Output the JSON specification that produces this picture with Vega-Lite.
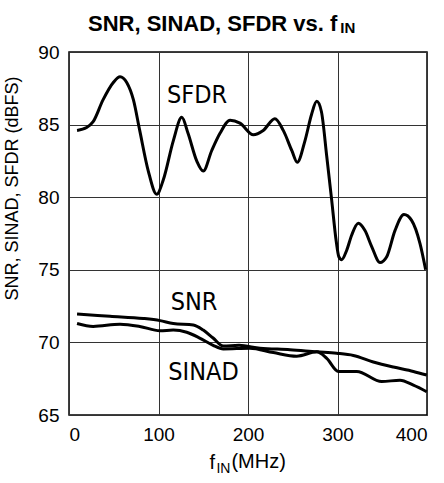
{
  "$schema": "https://vega.github.io/schema/vega-lite/v6.json",
  "width": 358,
  "height": 363,
  "autosize": "none",
  "padding": {"left": 69, "top": 52, "right": 17, "bottom": 68},
  "background": "white",
  "config": {
    "view": {"stroke": "#000", "strokeWidth": 1.5},
    "axis": {
      "grid": true, "gridColor": "#333", "gridWidth": 1, "domain": false, "ticks": false,
      "labelFont": "Liberation Sans", "labelFontSize": 19, "labelColor": "#000",
      "titleFont": "Liberation Sans", "titleFontWeight": "normal", "titleColor": "#000"
    }
  },
  "title": {
    "text": "SNR, SINAD, SFDR vs. f",
    "anchor": "start", "frame": "group", "dx": 19, "dy": 46, "offset": 14,
    "font": "Liberation Sans", "fontSize": 22, "fontWeight": "bold", "color": "#000", "baseline": "alphabetic"
  },
  "encoding": {
    "x": {"field": "f", "type": "quantitative",
      "scale": {"domain": [0, 400], "nice": false, "zero": false},
      "axis": {"values": [0, 100, 200, 300, 400], "labelPadding": 10, "title": "f",
        "titleFontSize": 20, "titleBaseline": "alphabetic", "titleAlign": "left", "titleX": 140, "titleY": 53}},
    "y": {"field": "v", "type": "quantitative",
      "scale": {"domain": [65, 90], "nice": false, "zero": false},
      "axis": {"values": [65, 70, 75, 80, 85, 90], "labelPadding": 10, "title": "SNR, SINAD, SFDR (dBFS)",
        "titleFontSize": 18, "titleAngle": -90, "titleBaseline": "alphabetic", "titleAlign": "center",
        "titleX": -52, "titleY": 136}}
  },
  "layer": [
    {
      "data": {"values": [
        {"s": "SFDR", "f": 9, "v": 84.6}, {"s": "SFDR", "f": 19.7, "v": 84.8}, {"s": "SFDR", "f": 27, "v": 85.2},
        {"s": "SFDR", "f": 38, "v": 86.7}, {"s": "SFDR", "f": 49.5, "v": 87.9}, {"s": "SFDR", "f": 57, "v": 88.3},
        {"s": "SFDR", "f": 64.5, "v": 87.9}, {"s": "SFDR", "f": 72, "v": 86.7}, {"s": "SFDR", "f": 79, "v": 84.6},
        {"s": "SFDR", "f": 88.6, "v": 81.8}, {"s": "SFDR", "f": 98, "v": 80.2}, {"s": "SFDR", "f": 105.4, "v": 81.2},
        {"s": "SFDR", "f": 116.6, "v": 83.9}, {"s": "SFDR", "f": 126, "v": 85.5}, {"s": "SFDR", "f": 133, "v": 84.4},
        {"s": "SFDR", "f": 142.7, "v": 82.5}, {"s": "SFDR", "f": 150, "v": 81.8}, {"s": "SFDR", "f": 159.4, "v": 83.2},
        {"s": "SFDR", "f": 168.7, "v": 84.4}, {"s": "SFDR", "f": 180, "v": 85.3}, {"s": "SFDR", "f": 191, "v": 85.1},
        {"s": "SFDR", "f": 206, "v": 84.3}, {"s": "SFDR", "f": 217, "v": 84.6}, {"s": "SFDR", "f": 230, "v": 85.4},
        {"s": "SFDR", "f": 239.4, "v": 84.6}, {"s": "SFDR", "f": 249, "v": 83.2}, {"s": "SFDR", "f": 255, "v": 82.4},
        {"s": "SFDR", "f": 263.7, "v": 83.9}, {"s": "SFDR", "f": 271, "v": 85.7}, {"s": "SFDR", "f": 276.8, "v": 86.6},
        {"s": "SFDR", "f": 282, "v": 85.9}, {"s": "SFDR", "f": 288, "v": 82.8}, {"s": "SFDR", "f": 293.5, "v": 79.8},
        {"s": "SFDR", "f": 298.5, "v": 77.0}, {"s": "SFDR", "f": 301.5, "v": 75.9}, {"s": "SFDR", "f": 304.7, "v": 75.7},
        {"s": "SFDR", "f": 310.3, "v": 76.35}, {"s": "SFDR", "f": 315.9, "v": 77.4}, {"s": "SFDR", "f": 323.3, "v": 78.2},
        {"s": "SFDR", "f": 330.7, "v": 77.7}, {"s": "SFDR", "f": 338.2, "v": 76.6}, {"s": "SFDR", "f": 347.5, "v": 75.5},
        {"s": "SFDR", "f": 355, "v": 75.9}, {"s": "SFDR", "f": 364.2, "v": 77.7}, {"s": "SFDR", "f": 374.3, "v": 78.8},
        {"s": "SFDR", "f": 382.8, "v": 78.4}, {"s": "SFDR", "f": 392.2, "v": 76.8}, {"s": "SFDR", "f": 398.5, "v": 75.0},
        {"s": "SNR", "f": 9, "v": 71.95}, {"s": "SNR", "f": 45.8, "v": 71.8}, {"s": "SNR", "f": 83, "v": 71.65},
        {"s": "SNR", "f": 101.7, "v": 71.5}, {"s": "SNR", "f": 116.5, "v": 71.3}, {"s": "SNR", "f": 138.9, "v": 71.2},
        {"s": "SNR", "f": 150, "v": 70.85}, {"s": "SNR", "f": 161, "v": 70.3}, {"s": "SNR", "f": 172.4, "v": 69.75},
        {"s": "SNR", "f": 190, "v": 69.8}, {"s": "SNR", "f": 213.4, "v": 69.6}, {"s": "SNR", "f": 246.9, "v": 69.5},
        {"s": "SNR", "f": 276.8, "v": 69.35}, {"s": "SNR", "f": 299, "v": 69.25}, {"s": "SNR", "f": 317.7, "v": 69.1},
        {"s": "SNR", "f": 340, "v": 68.65}, {"s": "SNR", "f": 362.4, "v": 68.3}, {"s": "SNR", "f": 384.8, "v": 68.0},
        {"s": "SNR", "f": 399.7, "v": 67.75},
        {"s": "SINAD", "f": 9, "v": 71.3}, {"s": "SINAD", "f": 27, "v": 71.1}, {"s": "SINAD", "f": 57, "v": 71.25},
        {"s": "SINAD", "f": 79, "v": 71.1}, {"s": "SINAD", "f": 101.7, "v": 70.8}, {"s": "SINAD", "f": 116.5, "v": 70.85},
        {"s": "SINAD", "f": 131.5, "v": 70.7}, {"s": "SINAD", "f": 146, "v": 70.3}, {"s": "SINAD", "f": 161, "v": 69.8},
        {"s": "SINAD", "f": 172.4, "v": 69.55}, {"s": "SINAD", "f": 202, "v": 69.6}, {"s": "SINAD", "f": 228.3, "v": 69.3},
        {"s": "SINAD", "f": 254.4, "v": 69.05}, {"s": "SINAD", "f": 276.8, "v": 69.35}, {"s": "SINAD", "f": 288, "v": 68.9},
        {"s": "SINAD", "f": 301, "v": 68.0}, {"s": "SINAD", "f": 321.5, "v": 68.0}, {"s": "SINAD", "f": 349.4, "v": 67.3},
        {"s": "SINAD", "f": 369.8, "v": 67.4}, {"s": "SINAD", "f": 384.8, "v": 67.05}, {"s": "SINAD", "f": 399.7, "v": 66.6}
      ]},
      "mark": {"type": "line", "color": "#000", "strokeWidth": 3, "interpolate": "monotone"},
      "encoding": {"detail": {"field": "s"}}
    },
    {
      "data": {"values": [
        {"f": 143, "v": 87.04, "label": "SFDR"},
        {"f": 139.7, "v": 72.75, "label": "SNR"},
        {"f": 150.3, "v": 67.96, "label": "SINAD"}
      ]},
      "mark": {"type": "text", "font": "DejaVu Sans Condensed, DejaVu Sans", "fontSize": 25, "color": "#000", "align": "center", "baseline": "middle"},
      "encoding": {"text": {"field": "label"}}
    },
    {
      "data": {"values": [{"f": 311.5, "v": 91.3, "label": "IN"}]},
      "mark": {"type": "text", "font": "Liberation Sans", "fontSize": 15, "fontWeight": "bold", "color": "#000", "align": "center", "baseline": "alphabetic"},
      "encoding": {"text": {"field": "label"}}
    },
    {
      "data": {"values": [{"f": 172.6, "v": 61.0, "label": "IN"}]},
      "mark": {"type": "text", "font": "Liberation Sans", "fontSize": 14, "color": "#000", "align": "center", "baseline": "alphabetic"},
      "encoding": {"text": {"field": "label"}}
    },
    {
      "data": {"values": [{"f": 181.5, "v": 61.35, "label": "(MHz)"}]},
      "mark": {"type": "text", "font": "Liberation Sans", "fontSize": 20, "color": "#000", "align": "left", "baseline": "alphabetic"},
      "encoding": {"text": {"field": "label"}}
    }
  ]
}
